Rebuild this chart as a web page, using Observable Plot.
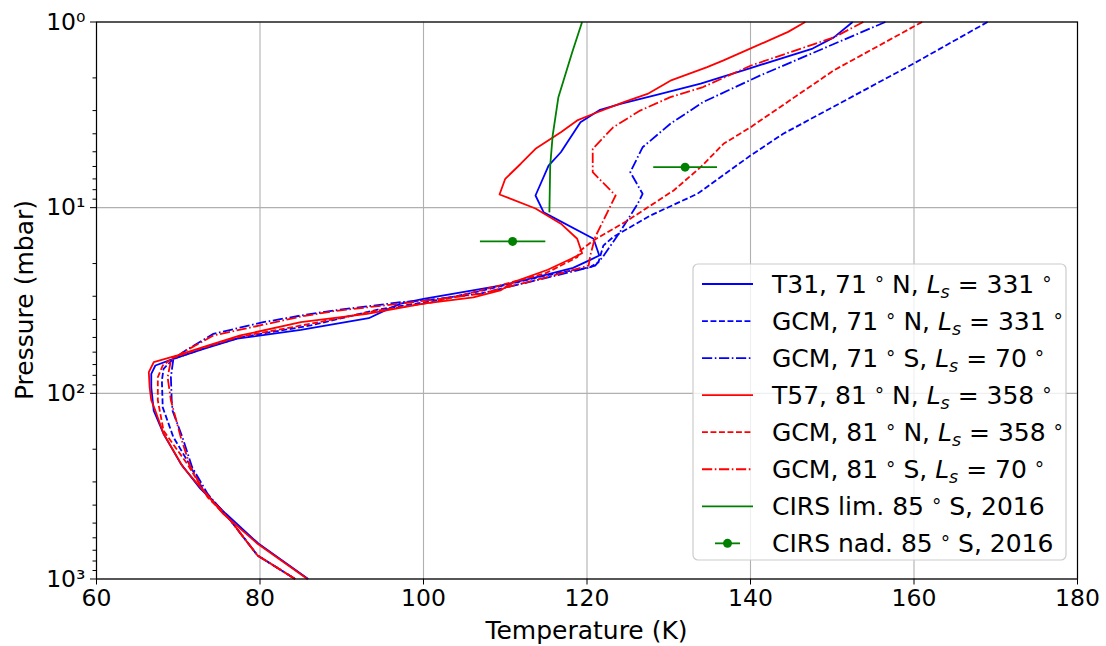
<!DOCTYPE html>
<html><head><meta charset="utf-8">
<script src="https://cdn.jsdelivr.net/npm/d3@7"></script>
<script src="https://cdn.jsdelivr.net/npm/@observablehq/plot@0.6"></script>
<style>
html,body{margin:0;padding:0;background:#fff;}
#wrap{position:relative;width:1106px;height:646px;font-family:"DejaVu Sans",sans-serif;}
#wrap svg{position:absolute;left:0;top:0;}
</style></head><body><div id="wrap"></div>
<script>
// ---- data (temperature K, pressure mbar) ----
const t31T = [152.5,150.2,147.6,140.0,133.9,129.0,124.1,121.6,119.2,116.8,115.3,113.7,114.7,120.8,121.5,120.4,118.3,114.1,109.4,100.0,97.2,95.7,93.3,85.0,77.2,73.1,69.4,67.2,66.7,66.7,67.0,68.2,70.3,72.7,75.8,79.8,85.9];
const t31P = [1.0,1.21,1.39,1.77,2.15,2.44,2.76,2.97,3.47,5.03,5.93,8.60,10.6,14.7,18.1,19.1,21.1,23.5,26.3,31.0,32.9,35.1,39.4,45.5,50.8,57.6,65.2,70.8,78.5,92.7,124,165,239,326,444,644,1000];

const g71nT = [169.0,159.9,144.0,140.0,133.5,127.8,123.2,122.0,121.4,120.4,114.9,107.0,101.2,94.4,86.2,77.6,73.6,69.4,68.2,68.0,68.1,69.4,71.1,73.1,76.4,79.7,84.3];
const g71nP = [1,1.68,4.00,5.24,8.42,11.0,14.4,16.0,19.7,20.9,23.2,28.1,31.8,35.4,43.1,49.9,56.4,65.2,73.8,85.3,119,172,230,334,484,747,1000];

const g71sT = [156.5,141.2,134.2,130.2,126.8,125.3,126.8,126.2,123.9,121.9,121.0,120.1,114.3,107.0,100.0,97.2,89.0,85.0,80.4,74.3,70.9,69.4,69.1,69.2,69.3,70.5,71.7,73.6,76.4,79.7,84.3];
const g71sP = [1,1.94,2.70,3.53,4.73,6.44,8.42,9.53,13.8,18.5,20.5,21.1,24.3,29.0,31.6,32.3,35.8,38.1,41.4,47.8,58.8,65.2,81.9,109,124,172,250,348,484,747,1000];

const t57T = [146.7,144.6,136.7,134.7,130.2,127.4,124.5,120.8,118.8,116.8,113.7,111.9,110.0,109.3,113.7,116.8,118.8,119.4,118.0,115.2,111.0,109.4,106.1,100.0,93.1,85.0,77.6,73.6,69.9,67.0,66.4,66.5,66.7,67.2,68.2,70.6,72.7,75.5,79.7,85.8];
const t57P = [1,1.13,1.61,1.75,2.07,2.44,2.70,3.12,3.39,3.92,4.82,5.80,6.99,8.49,10.1,12.2,14.7,17.6,18.9,21.6,25.2,27.9,30.4,32.9,37.3,41.4,48.8,55.3,62.5,68.0,76.9,92.7,109,124,165,250,320,446,646,1000];

const g81nT = [161.0,150.2,140.0,136.7,133.9,130.6,125.0,120.8,119.2,118.8,114.9,107.0,101.2,94.4,86.2,77.2,69.4,68.1,67.5,67.5,68.2,71.1,73.6,76.4,79.7,84.3];
const g81nP = [1,1.82,3.69,4.53,6.05,8.08,11.7,15.0,17.0,18.5,22.6,27.9,32.3,35.8,42.2,49.9,63.9,70.8,81.9,109,159,240,363,484,747,1000];

const g81sT = [153.8,150.2,140.0,134.2,130.2,126.5,123.2,120.7,120.7,123.5,121.0,120.4,120.2,114.9,107.0,100.0,89.0,85.0,74.3,70.6,69.1,68.7,69.1,70.3,71.5,73.1,76.4,79.7,84.3];
const g81sP = [1,1.21,1.72,2.24,2.54,3.00,3.69,4.82,6.44,8.60,14.4,18.1,20.5,23.8,29.1,31.8,36.1,38.6,48.8,60.0,66.6,81.9,109,172,250,334,484,747,1000];

const cirsLimT = [119.4,118.2,116.5,115.8,115.5,115.4];
const cirsLimP = [1,1.45,2.54,4.09,5.93,10.6];

const cirsNadT = [132.0,110.9];
const cirsNadErr = [3.9,4.0];
const cirsNadP = [6.05,15.2];

const xTicks = [60,80,100,120,140,160,180];
const yMajor = [1,10,100,1000];
const yTickLabels = ["10\u2070","10\u00b9","10\u00b2","10\u00b3"];
const yMinor = [2,3,4,5,6,7,8,9,20,30,40,50,60,70,80,90,200,300,400,500,600,700,800,900];

const legendName = ["T31,","GCM,","GCM,","T57,","GCM,","GCM,","CIRS lim.","CIRS nad."];
const legendLat = ["71","71","71","81","81","81","85","85"];
const legendHemi = ["N","N","S","N","N","S","S","S"];
const legendLs = ["331","331","70","358","358","70",null,null];
const legendYear = [null,null,null,null,null,null,"2016","2016"];

const BLUE = "#0000ff", RED = "#ff0000", GREEN = "#008000";
const DASH = "5.9,2.6", DASHDOT = "10.2,2.6,1.6,2.6";
const LW = 1.8;

const series = [
  {T: t31T, P: t31P, color: BLUE, dash: null},
  {T: g71nT, P: g71nP, color: BLUE, dash: DASH},
  {T: g71sT, P: g71sP, color: BLUE, dash: DASHDOT},
  {T: t57T, P: t57P, color: RED, dash: null},
  {T: g81nT, P: g81nP, color: RED, dash: DASH},
  {T: g81sT, P: g81sP, color: RED, dash: DASHDOT},
  {T: cirsLimT, P: cirsLimP, color: GREEN, dash: null}
];

const toRows = (T, P) => T.map((t, i) => ({T: t, P: P[i]}));
const nadRows = cirsNadT.map((t, i) => ({T: t, P: cirsNadP[i], e: cirsNadErr[i]}));

const FS = 23.5;
const chart = Plot.plot({
  width: 1106, height: 646,
  marginLeft: 96, marginRight: 29, marginTop: 21.5, marginBottom: 67.5,
  x: {domain: [60, 180]},
  y: {type: "log", domain: [1, 1000], reverse: true},
  style: {fontFamily: "DejaVu Sans", fontSize: FS + "px", color: "black", background: "transparent"},
  marks: [
    Plot.gridX({ticks: xTicks, stroke: "#b0b0b0", strokeOpacity: 1, strokeWidth: 1.1}),
    Plot.gridY({ticks: yMajor, stroke: "#b0b0b0", strokeOpacity: 1, strokeWidth: 1.1}),
    ...series.map(s => Plot.line(toRows(s.T, s.P), {
      x: "T", y: "P", stroke: s.color, strokeWidth: LW,
      strokeDasharray: s.dash || undefined, strokeLinejoin: "round", strokeLinecap: "butt"
    })),
    Plot.link(nadRows, {x1: d => d.T - d.e, x2: d => d.T + d.e, y1: "P", y2: "P", stroke: GREEN, strokeWidth: LW}),
    Plot.dot(nadRows, {x: "T", y: "P", r: 4.5, fill: GREEN, stroke: null}),
    Plot.frame({stroke: "black", strokeWidth: 1.2}),
    Plot.axisX({ticks: xTicks, tickSize: 6, tickPadding: 4, label: null, fontSize: FS, tickFormat: d => String(d)}),
    Plot.axisY({ticks: yMajor, tickSize: 6, tickPadding: 5, label: null, fontSize: FS, tickFormat: d => yTickLabels[yMajor.indexOf(d)]}),
    Plot.axisY({ticks: yMinor, tickSize: 3.5, label: null, tickFormat: () => ""})
  ]
});
const wrap = document.getElementById("wrap");
wrap.appendChild(chart);

// ---- overlay: axis titles + legend ----
const ov = d3.select(wrap).append("svg")
  .attr("width", 1106).attr("height", 646)
  .style("font-family", "DejaVu Sans").style("pointer-events", "none");

ov.append("text").attr("x", 586.5).attr("y", 639).attr("text-anchor", "middle")
  .attr("font-size", 25).attr("fill", "black").text("Temperature (K)");
ov.append("text").attr("transform", "translate(33,300) rotate(-90)").attr("text-anchor", "middle")
  .attr("font-size", 25).attr("fill", "black").text("Pressure (mbar)");

const lg = ov.append("g");
lg.append("rect").attr("x", 693).attr("y", 264).attr("width", 373).attr("height", 296)
  .attr("rx", 5).attr("fill", "white").attr("fill-opacity", 0.8).attr("stroke", "#cccccc").attr("stroke-width", 1.2);

const rowY0 = 284, rowDy = 37.05, LFS = 25;
legendName.forEach((name, i) => {
  const y = rowY0 + i * rowDy;
  if (i < series.length) {
    const s = series[i];
    lg.append("line").attr("x1", 702).attr("x2", 753).attr("y1", y).attr("y2", y)
      .attr("stroke", s.color).attr("stroke-width", LW)
      .attr("stroke-dasharray", s.dash || null);
  } else {
    lg.append("line").attr("x1", 715).attr("x2", 740).attr("y1", y).attr("y2", y)
      .attr("stroke", GREEN).attr("stroke-width", LW);
    lg.append("circle").attr("cx", 727.5).attr("cy", y).attr("r", 4.5).attr("fill", GREEN);
  }
  const t = lg.append("text").attr("x", 772).attr("y", y + 9).attr("font-size", LFS).attr("fill", "black");
  t.append("tspan").text(`${name} ${legendLat[i]} `);
  t.append("tspan").attr("font-size", LFS * 0.75).attr("dy", -2).text("\u00b0");
  t.append("tspan").attr("dy", 2).text(` ${legendHemi[i]}, `);
  if (legendLs[i]) {
    t.append("tspan").attr("font-style", "italic").text("L");
    t.append("tspan").attr("font-style", "italic").attr("font-size", LFS * 0.7).attr("dy", 5).text("s");
    t.append("tspan").attr("dy", -5).text(` = ${legendLs[i]} `);
    t.append("tspan").attr("font-size", LFS * 0.75).attr("dy", -2).text("\u00b0");
  } else {
    t.append("tspan").text(legendYear[i]);
  }
});
</script></body></html>
